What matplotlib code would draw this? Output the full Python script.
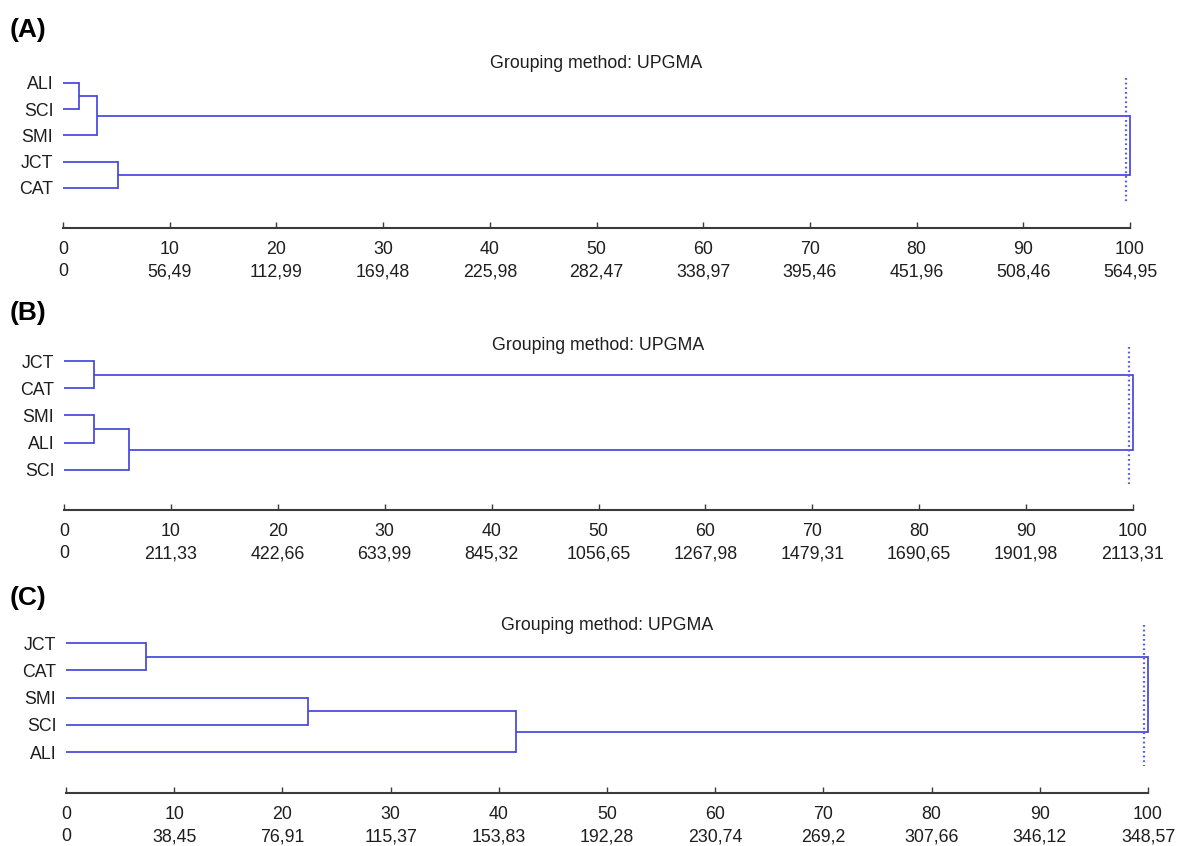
import matplotlib
matplotlib.use("Agg")
import matplotlib.pyplot as plt

plt.rcParams['font.family'] = ['Liberation Sans', 'DejaVu Sans']

W, H = 1183, 846

# ---------------- data ----------------
leaves_a = ['ALI', 'SCI', 'SMI', 'JCT', 'CAT']
merges_a = [(0, 1, 1.5), (5, 2, 3.2), (3, 4, 5.2), (6, 7, 100.0)]
scale2_a = ['0', '56,49', '112,99', '169,48', '225,98', '282,47', '338,97',
            '395,46', '451,96', '508,46', '564,95']

leaves_b = ['JCT', 'CAT', 'SMI', 'ALI', 'SCI']
merges_b = [(0, 1, 2.8), (2, 3, 2.8), (6, 4, 6.1), (5, 7, 100.0)]
scale2_b = ['0', '211,33', '422,66', '633,99', '845,32', '1056,65', '1267,98',
            '1479,31', '1690,65', '1901,98', '2113,31']

leaves_c = ['JCT', 'CAT', 'SMI', 'SCI', 'ALI']
merges_c = [(0, 1, 7.4), (2, 3, 22.4), (6, 4, 41.6), (5, 7, 100.0)]
scale2_c = ['0', '38,45', '76,91', '115,37', '153,83', '192,28', '230,74',
            '269,2', '307,66', '346,12', '348,57']

scale1 = [0, 10, 20, 30, 40, 50, 60, 70, 80, 90, 100]
cut_value = 99.6
title = 'Grouping method: UPGMA'

LINE = '#4646dc'
DOT = '#5c5cdc'
AX = '#3a3a3a'

fig = plt.figure(figsize=(W / 100, H / 100), dpi=100)


def panel(leaves, merges, scale2, letter, x0, x1, first, last, axis_px,
          title_px, letter_px, dot_lo, dot_hi):
    s = (last - first) / (len(leaves) - 1)
    top_px = first - 30
    ax = fig.add_axes([x0 / W, 1 - axis_px / H, (x1 - x0) / W,
                       (axis_px - top_px) / H])
    ax.set_xlim(0, 100)
    ax.set_ylim((axis_px - first) / s, (top_px - first) / s)

    ypos = {i: float(i) for i in range(len(leaves))}
    xpos = {i: 0.0 for i in range(len(leaves))}
    nid = len(leaves)
    for a, b, h in merges:
        for c in (a, b):
            ax.plot([xpos[c], h], [ypos[c], ypos[c]], color=LINE, lw=1.25,
                    solid_capstyle='butt', clip_on=False)
        ax.plot([h, h], [ypos[a], ypos[b]], color=LINE, lw=1.25,
                clip_on=False)
        ypos[nid] = (ypos[a] + ypos[b]) / 2
        xpos[nid] = h
        nid += 1

    ax.plot([cut_value, cut_value], [dot_lo, dot_hi], color=DOT, lw=1.6,
            linestyle=(0, (0.8, 1.3)), clip_on=False)

    ax.set_yticks(range(len(leaves)))
    ax.set_yticklabels(leaves, fontsize=12.8, color='#1e1e1e')
    ax.tick_params(axis='y', length=0, pad=7)

    ax.set_xticks(scale1)
    ax.set_xticklabels([f'{a}\n{b}' for a, b in zip(scale1, scale2)],
                       fontsize=12.8, color='#1e1e1e', linespacing=1.45)
    ax.tick_params(axis='x', direction='in', length=4, width=1,
                   color=AX, pad=9)

    for sp in ('top', 'right', 'left'):
        ax.spines[sp].set_visible(False)
    ax.spines['bottom'].set_color(AX)
    ax.spines['bottom'].set_linewidth(1.5)

    fig.text((x0 + x1) / 2 / W, 1 - title_px / H, title, fontsize=12.8,
             ha='center', va='center', color='#1e1e1e')
    fig.text(10 / W, 1 - letter_px / H, letter, fontsize=19,
             fontweight='bold', ha='left', va='center', color='black')


panel(leaves_a, merges_a, scale2_a, '(A)', 63, 1130, 83, 188, 228, 63, 30,
      -0.2, 4.55)
panel(leaves_b, merges_b, scale2_b, '(B)', 64, 1133, 361, 470, 510, 345, 313,
      -0.5, 4.5)
panel(leaves_c, merges_c, scale2_c, '(C)', 66, 1148, 643, 752, 793, 625, 598,
      -0.65, 4.5)

fig.savefig('out.png', dpi=100, facecolor='white')
